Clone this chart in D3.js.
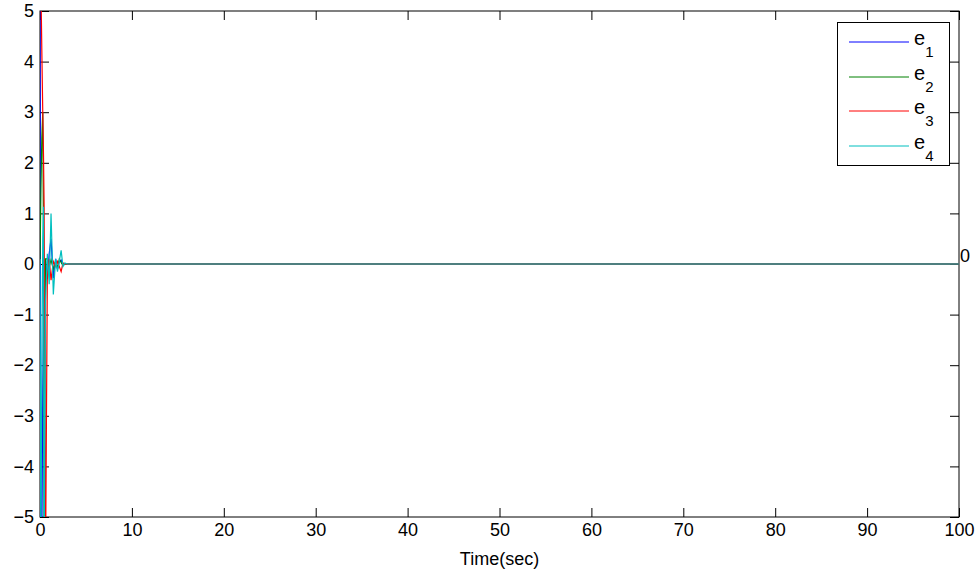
<!DOCTYPE html>
<html>
<head>
<meta charset="utf-8">
<script src="https://cdn.jsdelivr.net/npm/d3@7"></script>
<style>
  body { margin: 0; background: #fff; }
  svg { font-family: "Liberation Sans", Arial, sans-serif; }
</style>
</head>
<body>
<div class="container"></div>
<script>
// time samples (sec) - transient only, then flat to 100
const time = [0, 0.1, 0.2, 0.3, 0.38, 0.45, 0.6, 0.8, 1.0, 1.2, 1.45, 1.7, 1.9, 2.1, 2.3, 2.5, 2.7, 3.0, 100];
const e1 = [6, -7, -5.5, -2.5, -1.2, -0.4, 0.1, -0.3, 0.2, 0.5, -0.28, 0.1, -0.1, 0.05, 0.08, -0.02, 0, 0, 0];
const e2 = [0, 1.5, 2.5, 3.0, 0.5, -6, 0.1, 0.1, -0.05, 0.08, -0.1, 0.05, -0.08, 0.1, 0.03, -0.03, 0, 0, 0];
const e3 = [7, 5.5, 4.2, 3, 2.15, 1.1, -6, -0.2, 0.1, -0.32, 0.05, -0.05, 0.05, -0.05, -0.15, 0.02, 0, 0, 0];
const e4 = [0.1, -6, -2, 0.5, 1.13, -6, -0.75, 0.2, -0.4, 1.0, -0.6, 0.1, -0.15, 0.05, 0.27, -0.05, 0.02, 0, 0];
const seriesNames = ["1", "2", "3", "4"];
const seriesColors = ["#0000ff", "#008000", "#ff0000", "#00bfbf"];
const xTicks = [0, 10, 20, 30, 40, 50, 60, 70, 80, 90, 100];
const yTicks = [-5, -4, -3, -2, -1, 0, 1, 2, 3, 4, 5];

const width = 979, height = 576;
const plotL = 40, plotR = 959, plotT = 11, plotB = 517;

const svg = d3.select(".container").append("svg").attr("width", width).attr("height", height);

const x = d3.scaleLinear().domain([0, 100]).range([plotL, plotR]);
const y = d3.scaleLinear().domain([-5, 5]).range([plotB, plotT]);

svg.append("clipPath").attr("id", "clip")
    .append("rect").attr("x", plotL).attr("y", plotT).attr("width", plotR - plotL).attr("height", plotB - plotT);

const fmt = d => d < 0 ? "\u2212" + Math.abs(d) : String(d);
const tickLen = 9;

// axes, MATLAB style ticks inside
svg.append("g").attr("transform", `translate(0,${plotB})`)
    .call(d3.axisBottom(x).tickValues(xTicks).tickSizeInner(-tickLen).tickSizeOuter(0).tickPadding(6).tickFormat(fmt));
svg.append("g").attr("transform", `translate(0,${plotT})`)
    .call(d3.axisTop(x).tickValues(xTicks).tickSizeInner(-tickLen).tickSizeOuter(0).tickFormat(""));
svg.append("g").attr("transform", `translate(${plotL},0)`)
    .call(d3.axisLeft(y).tickValues(yTicks).tickSizeInner(-tickLen).tickSizeOuter(0).tickPadding(6).tickFormat(fmt));
svg.append("g").attr("transform", `translate(${plotR},0)`)
    .call(d3.axisRight(y).tickValues(yTicks).tickSizeInner(-tickLen).tickSizeOuter(0).tickFormat(""));

svg.selectAll(".domain").remove();
svg.selectAll(".tick line").attr("stroke", "#000").attr("stroke-width", 1);
svg.selectAll(".tick text").attr("font-size", 18).attr("fill", "#000").attr("font-family", "Liberation Sans, Arial, sans-serif");

svg.append("rect").attr("x", plotL).attr("y", plotT).attr("width", plotR - plotL).attr("height", plotB - plotT)
    .attr("fill", "none").attr("stroke", "#000").attr("stroke-width", 1);

// traces
const allSeries = [e1, e2, e3, e4];
const line = d3.line().x(d => x(d[0])).y(d => y(d[1]));
const g = svg.append("g").attr("clip-path", "url(#clip)");
allSeries.forEach((s, i) => {
    g.append("path").datum(time.map((t, j) => [t, s[j]]))
        .attr("d", line).attr("fill", "none")
        .attr("stroke", seriesColors[i]).attr("stroke-width", 1.2);
});

// stray label at the right edge
svg.append("text").attr("x", plotR + 1).attr("y", 262).attr("font-size", 18).text("0");

svg.append("text").attr("x", (plotL + plotR) / 2).attr("y", 565)
    .attr("text-anchor", "middle").attr("font-size", 18).text("Time(sec)");

// legend
const lg = svg.append("g");
lg.append("rect").attr("x", 837.5).attr("y", 22.5).attr("width", 112).attr("height", 143)
    .attr("fill", "#fff").attr("stroke", "#000").attr("stroke-width", 1);
seriesNames.forEach((n, i) => {
    const ly = Math.round(42 + i * 34.6);
    lg.append("line").attr("x1", 849).attr("x2", 909).attr("y1", ly).attr("y2", ly)
        .attr("stroke", seriesColors[i]).attr("stroke-width", 1);
    const t = lg.append("text").attr("x", 914).attr("y", ly + 3).attr("font-size", 20);
    t.append("tspan").text("e");
    t.append("tspan").attr("font-size", 15).attr("dy", 11.5).text(n);
});
</script>
</body>
</html>
